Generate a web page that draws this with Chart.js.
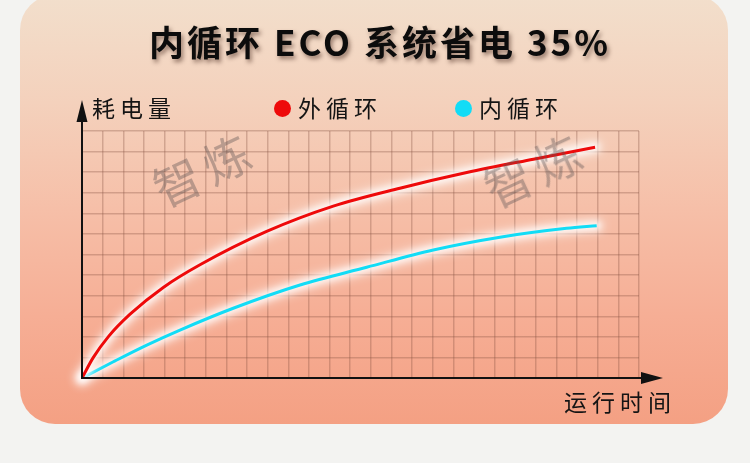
<!DOCTYPE html>
<html>
<head>
<meta charset="utf-8">
<script src="https://cdn.jsdelivr.net/npm/chart.js@4.4.1/dist/chart.umd.min.js"></script>
<style>
  html,body{margin:0;padding:0;}
  body{width:750px;height:463px;overflow:hidden;position:relative;background:#f3f3f1;font-family:"Noto Sans CJK SC","Noto Sans",sans-serif;}
  #panel{position:absolute;left:20px;top:-5px;width:708px;height:429px;border-radius:35px;
    background:linear-gradient(to bottom,#f2dfcc 0%,#f4d1bc 25%,#f6bfa8 50%,#f6ae95 75%,#f4a083 100%);}
  #c{position:absolute;left:0;top:0;}
  .txt{position:absolute;white-space:nowrap;color:#141414;}
  #title{left:5px;width:750px;top:23px;text-align:center;font-size:35px;line-height:36px;font-weight:bold;letter-spacing:3px;color:#0c0c0c;text-shadow:2px 3px 4px rgba(60,30,20,0.5);}
  .lab{font-size:23px;line-height:23px;letter-spacing:5px;}
  .dot{position:absolute;width:17px;height:17px;border-radius:50%;}
  .wm{position:absolute;font-size:47px;line-height:47px;letter-spacing:7px;color:rgba(95,85,85,0.40);transform:translate(-50%,-50%) rotate(-25deg);white-space:nowrap;}
</style>
</head>
<body>
<div id="panel"></div>
<canvas id="c" width="750" height="463"></canvas>
<div class="wm" style="left:204px;top:167px;">智炼</div>
<div class="wm" style="left:535px;top:167px;">智炼</div>
<div id="title" class="txt"></div>
<div id="ylab" class="txt lab" style="left:92px;top:96px;"></div>
<div class="dot" style="left:273.5px;top:100px;background:#ee0a0a;"></div>
<div id="leg1" class="txt lab" style="left:298px;top:96px;"></div>
<div class="dot" style="left:454.5px;top:100px;background:#12dcf6;"></div>
<div id="leg2" class="txt lab" style="left:479px;top:96px;"></div>
<div id="xlab" class="txt lab" style="left:564px;top:390px;"></div>
<script>
// ---- data (grid cells: x = running time, y = power consumption) ----
const titleText = "内循环 ECO 系统省电 35%";
const yAxisLabel = "耗电量";
const xAxisLabel = "运行时间";
const seriesNames = ["外循环", "内循环"];
const xMax = 27;
const yMax = 12;
const outerX = [0, 0.55, 1.27, 2.33, 3.94, 5.72, 8.95, 12.18, 15.41, 18.65, 21.88, 24.87];
const outerY = [0, 1.0, 2.0, 3.1, 4.40, 5.50, 7.12, 8.35, 9.22, 9.98, 10.63, 11.21];
const innerX = [0, 1.52, 3.14, 4.75, 7.33, 10.57, 13.80, 17.03, 20.26, 23.49, 24.95];
const innerY = [0, 0.79, 1.60, 2.33, 3.39, 4.52, 5.38, 6.22, 6.84, 7.27, 7.40];
const seriesColors = ["#ee0a0a", "#12dcf6"];

document.getElementById('title').textContent = titleText;
document.getElementById('ylab').textContent = yAxisLabel;
document.getElementById('xlab').textContent = xAxisLabel;
document.getElementById('leg1').textContent = seriesNames[0];
document.getElementById('leg2').textContent = seriesNames[1];

const toPts = (xs, ys) => xs.map((x, i) => ({x: x, y: ys[i]}));

// white glow under each line, drawn from the line element's own path
const glow = {
  id: 'glow',
  beforeDatasetDraw(chart, args) {
    const line = args.meta.dataset;
    if (!line || typeof line.path !== 'function') return;
    const c = chart.ctx;
    const passes = [[16, 'rgba(255,255,255,0.4)', 'blur(5px)'], [8, 'rgba(255,255,255,0.85)', 'blur(3px)']];
    for (const [w, col, f] of passes) {
      c.save();
      c.filter = f;
      c.strokeStyle = col;
      c.lineWidth = w;
      c.lineCap = 'round';
      c.lineJoin = 'round';
      c.beginPath();
      line.path(c);
      c.stroke();
      c.restore();
    }
  }
};

const axesArrows = {
  id: 'axesArrows',
  afterDatasetsDraw(chart) {
    const c = chart.ctx;
    const xs = chart.scales.x, ys = chart.scales.y;
    const ox = xs.getPixelForValue(0), oy = ys.getPixelForValue(0);
    const top = chart.chartArea.top - 31;
    const right = chart.chartArea.right + 24;
    c.save();
    c.strokeStyle = '#111';
    c.fillStyle = '#111';
    c.lineWidth = 2;
    c.beginPath();
    c.moveTo(ox, oy); c.lineTo(ox, top + 15);
    c.moveTo(ox - 1, oy); c.lineTo(right - 15, oy);
    c.stroke();
    c.beginPath();
    c.moveTo(ox, top); c.lineTo(ox - 5.5, top + 22); c.lineTo(ox + 5.5, top + 22); c.closePath(); c.fill();
    c.beginPath();
    c.moveTo(right, oy); c.lineTo(right - 22, oy - 6); c.lineTo(right - 22, oy + 6); c.closePath(); c.fill();
    c.restore();
  }
};

const gridColor = 'rgba(125,75,60,0.30)';
new Chart(document.getElementById('c'), {
  type: 'line',
  data: {
    datasets: [
      {label: seriesNames[0], data: toPts(outerX, outerY), borderColor: seriesColors[0], borderWidth: 3, pointRadius: 0, cubicInterpolationMode: 'monotone', fill: false},
      {label: seriesNames[1], data: toPts(innerX, innerY), borderColor: seriesColors[1], borderWidth: 3, pointRadius: 0, cubicInterpolationMode: 'monotone', fill: false}
    ]
  },
  options: {
    responsive: false,
    animation: false,
    devicePixelRatio: 1,
    layout: {padding: {left: 82, right: 111, top: 131, bottom: 85}},
    plugins: {legend: {display: false}, tooltip: {enabled: false}, title: {display: false}},
    scales: {
      x: {type: 'linear', min: 0, max: xMax,
          ticks: {display: false, stepSize: 1, autoSkip: false, maxTicksLimit: 100},
          grid: {color: gridColor, lineWidth: 1.5, drawTicks: false},
          border: {display: false},
          afterFit(s) { s.height = 0; }},
      y: {type: 'linear', min: 0, max: yMax,
          ticks: {display: false, stepSize: 1, autoSkip: false, maxTicksLimit: 100},
          grid: {color: gridColor, lineWidth: 1.5, drawTicks: false},
          border: {display: false},
          afterFit(s) { s.width = 0; }}
    }
  },
  plugins: [glow, axesArrows]
});
</script>
</body>
</html>
